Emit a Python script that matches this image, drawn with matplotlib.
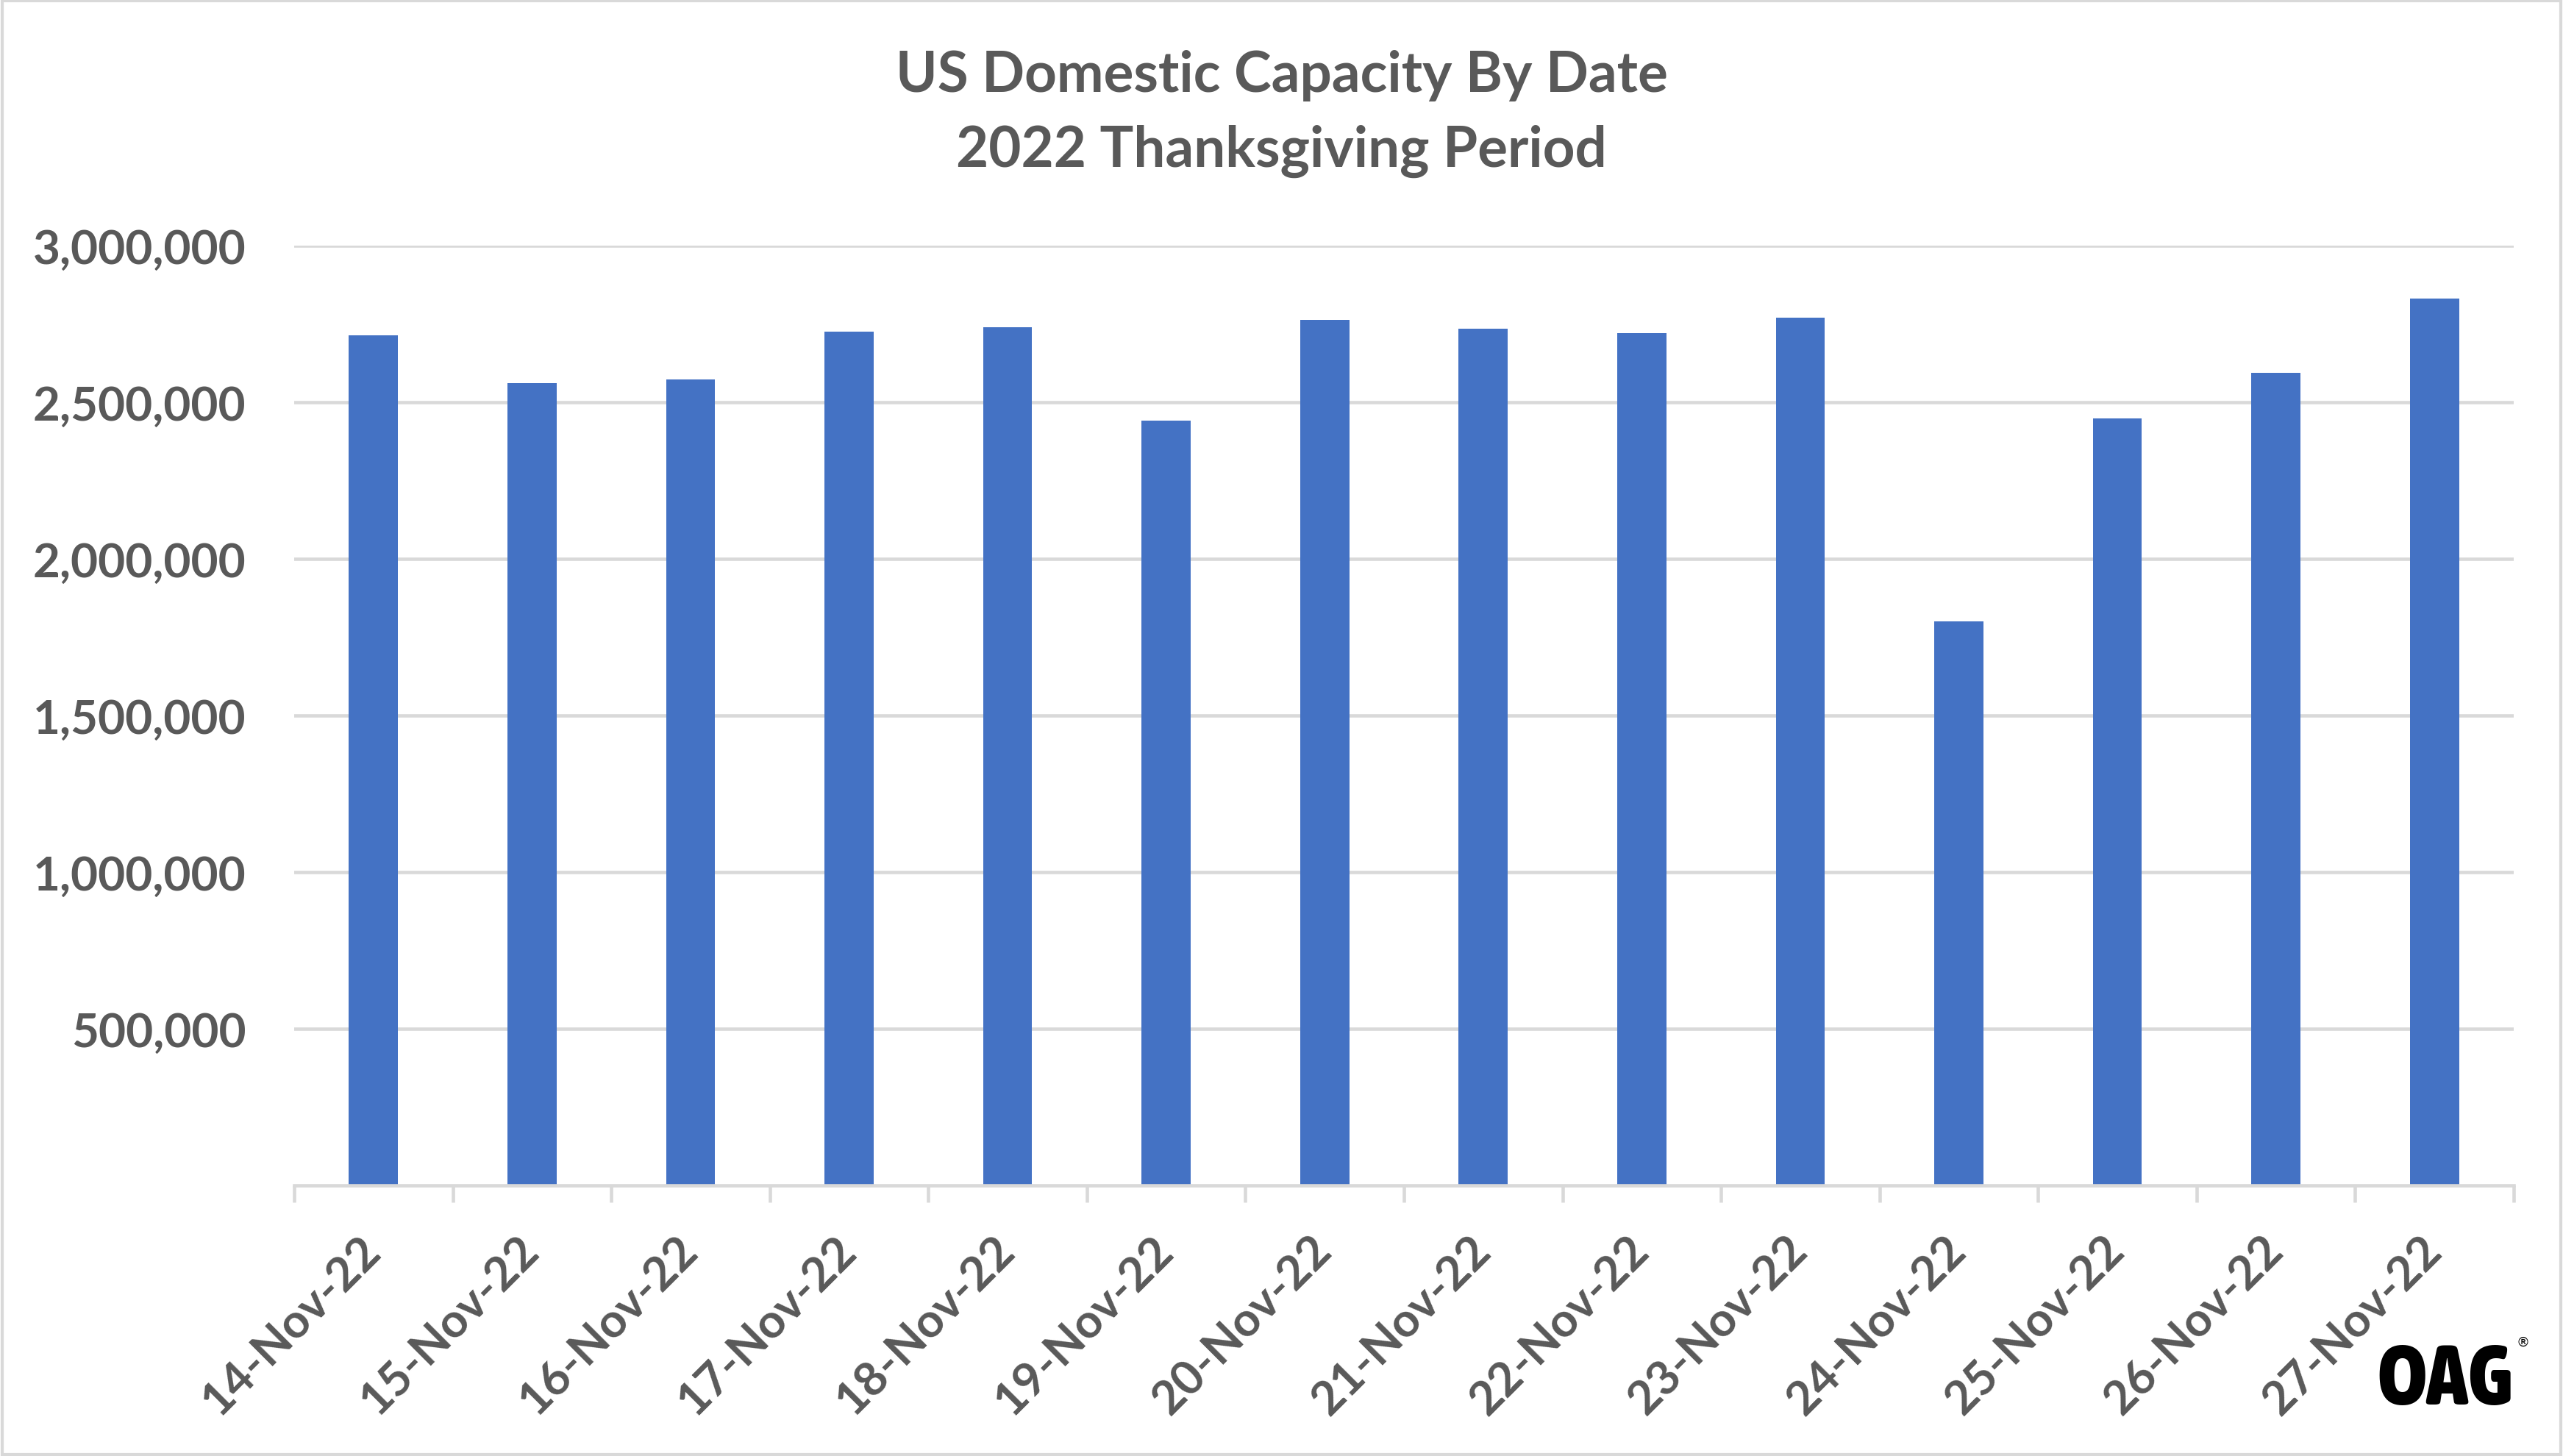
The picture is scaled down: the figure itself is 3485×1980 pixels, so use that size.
import matplotlib
matplotlib.use("Agg")
import matplotlib.pyplot as plt
from matplotlib.ticker import FuncFormatter, FixedLocator
from matplotlib.patches import Rectangle
from matplotlib import font_manager as fm

# ---- data ----
dates = ["14-Nov-22", "15-Nov-22", "16-Nov-22", "17-Nov-22", "18-Nov-22",
         "19-Nov-22", "20-Nov-22", "21-Nov-22", "22-Nov-22", "23-Nov-22",
         "24-Nov-22", "25-Nov-22", "26-Nov-22", "27-Nov-22"]
capacity = [2713000, 2560000, 2573000, 2726000, 2740000,
            2441000, 2764000, 2735000, 2721000, 2769000,
            1800000, 2448000, 2593000, 2832000]
yticks = [500000, 1000000, 1500000, 2000000, 2500000, 3000000]
title_lines = ["US Domestic Capacity By Date", "2022 Thanksgiving Period"]

W, H, DPI = 3485, 1981, 100
plt.rcParams['font.family'] = ['Lato', 'DejaVu Sans']
TXT = '#595959'
GRID = '#D9D9D9'
BAR = '#4472C4'

fig = plt.figure(figsize=(W / DPI, H / DPI), dpi=DPI)
fig.patch.set_facecolor('white')

left, right, top, bottom = 400, 3418, 335, 1613
ax = fig.add_axes([left / W, 1 - bottom / H, (right - left) / W, (bottom - top) / H])

x = list(range(len(dates)))
ax.bar(x, capacity, width=0.31, color=BAR, zorder=3)
ax.set_xlim(-0.5, len(dates) - 0.5)
ax.set_ylim(0, 3000000)

ax.yaxis.set_major_locator(FixedLocator(yticks))
ax.yaxis.set_major_formatter(FuncFormatter(lambda v, p: f"{int(v):,}"))
ax.grid(axis='y', color=GRID, linewidth=3.3, zorder=0)
ax.tick_params(axis='y', length=0, pad=47, labelsize=46, labelcolor=TXT)
for lbl in ax.get_yticklabels():
    lbl.set_fontweight('bold')

ax.set_xticks(x)
ax.set_xticklabels(dates, rotation=45, ha='right', va='center',
                   rotation_mode='anchor', fontsize=46, color=TXT, fontweight='bold')
ax.tick_params(axis='x', which='major', length=0, pad=56)
ax.set_xticks([i - 0.5 for i in range(len(dates) + 1)], minor=True)
ax.tick_params(axis='x', which='minor', length=16.5, width=3.3, color=GRID, direction='out')

for s in ['left', 'right', 'top']:
    ax.spines[s].set_visible(False)
ax.spines['bottom'].set_color(GRID)
ax.spines['bottom'].set_linewidth(3.3)
ax.spines['bottom'].set_zorder(4)

# title
fig.text(0.5, 1 - 125 / H, title_lines[0], ha='center', va='baseline',
         fontsize=55, fontweight='bold', color=TXT)
fig.text(0.5, 1 - 227 / H, title_lines[1], ha='center', va='baseline',
         fontsize=55, fontweight='bold', color=TXT)

# logo: prefer a narrow / condensed bold face if one is installed
logo_fp = None
cands = []
for f in fm.fontManager.ttflist:
    nm = (f.name + ' ' + f.fname).lower()
    narrow = ('narrow' in nm or 'condensed' in nm or 'compressed' in nm
              or str(f.stretch) in ('condensed', 'extra-condensed', 'ultra-condensed', 'semi-condensed'))
    w = f.weight if isinstance(f.weight, int) else (700 if 'bold' in str(f.weight).lower() else 400)
    if narrow and w >= 600 and 'italic' not in nm and 'oblique' not in nm:
        score = 0 if 'extra' in nm or 'ultra' in nm else 1
        cands.append((score, f.fname))
if cands:
    cands.sort()
    logo_fp = fm.FontProperties(fname=cands[0][1])
else:
    logo_fp = fm.FontProperties(family='DejaVu Sans', weight='bold')

logo = fig.text(3417 / W, 1 - 1910 / H, "OAG", ha='right', va='baseline',
                fontproperties=logo_fp, color='black')
logo.set_fontsize(100)
fig.canvas.draw()
bb = logo.get_window_extent()
hs = 100 / max(bb.height * 0.78, 1)
ws = 185 / max(bb.width, 1)
logo.set_fontsize(100 * min(hs, ws))
fig.text(3421 / W, 1 - 1826 / H, "®", ha='left', va='center',
         fontsize=13, color='black', family=['DejaVu Sans'])

# chart border
fig.patches.append(Rectangle((0.0008, 0.0012), 0.9984, 0.9976, transform=fig.transFigure,
                             fill=False, edgecolor=GRID, linewidth=3))

fig.savefig("out.png", dpi=DPI, facecolor='white')
